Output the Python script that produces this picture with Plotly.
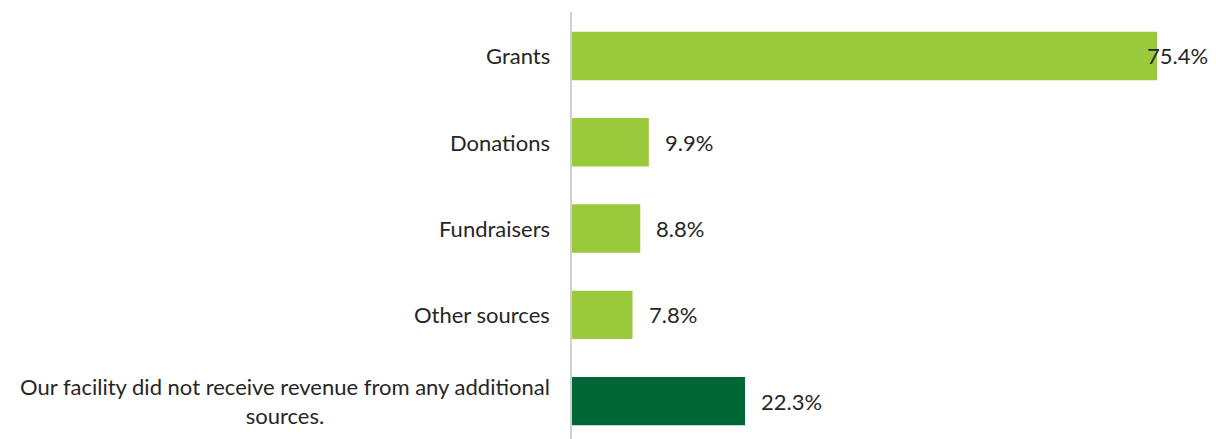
import plotly.graph_objects as go

categories = ["Grants", "Donations", "Fundraisers", "Other sources",
              "Our facility did not receive revenue from any additional<br>sources."]
values = [75.4, 9.9, 8.8, 7.8, 22.3]
bar_colors = ["#9ACA3C", "#9ACA3C", "#9ACA3C", "#9ACA3C", "#006837"]
labels = [f"{v:.1f}%" for v in values]

FONT = "Lato"
TXT = "#262626"

fig = go.Figure(go.Bar(
    y=list(range(len(categories))), x=values, orientation="h",
    marker=dict(color=bar_colors, line=dict(width=0)),
    width=0.56, hoverinfo="skip",
))

# category labels, centred lines like the original
for i, c in enumerate(categories):
    fig.add_annotation(x=0, y=i, xref="paper", yref="y", text=c, showarrow=False,
                       xanchor="right", align="center", xshift=-20,
                       font=dict(family=FONT, size=22, color=TXT))

# value labels (the long Grants bar gets its label pulled back over the bar end)
for i, (v, t) in enumerate(zip(values, labels)):
    fig.add_annotation(x=v, y=i, xref="x", yref="y", text=t, showarrow=False,
                       xanchor="left", xshift=-12 if v > 70 else 14,
                       font=dict(family=FONT, size=22, color=TXT))

fig.update_layout(
    width=1208, height=431,
    margin=dict(l=564, r=0, t=4, b=0),
    paper_bgcolor="white", plot_bgcolor="white",
    showlegend=False,
    xaxis=dict(range=[0, 83], visible=False),
    yaxis=dict(range=[4.44, -0.51], showticklabels=False, showgrid=False,
               zeroline=False, showline=True, linecolor="#D0D0D0", linewidth=2),
)

fig.write_html("out.html")
